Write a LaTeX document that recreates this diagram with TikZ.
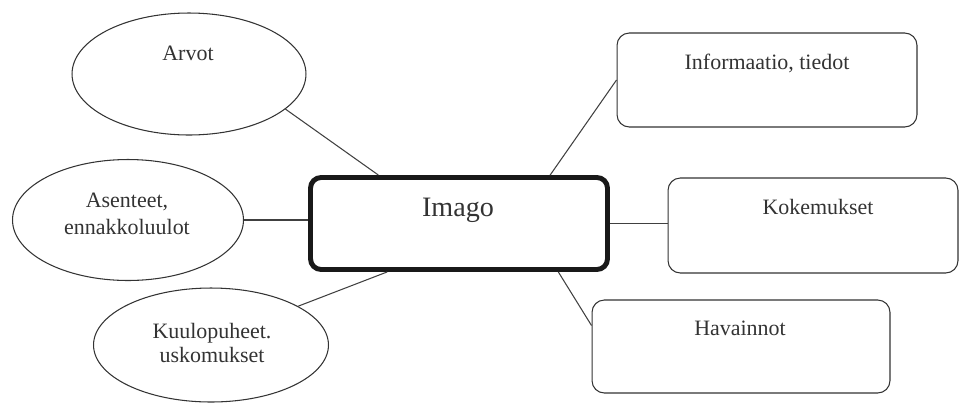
\documentclass[tikz,border=0pt]{standalone}
\usepackage{fontspec}
\setmainfont{Liberation Serif}
\usetikzlibrary{shapes.geometric}
\begin{document}
\begin{tikzpicture}[x=0.02cm,y=-0.02cm,line width=0.6pt,
  oval/.style={draw=black!80,ellipse,inner sep=0pt},
  box/.style={draw=black!80,rounded corners=7pt,inner sep=0pt},
  txt/.style={text=black!80,font=\fontsize{12.5}{15}\selectfont,align=center},
  link/.style={draw=black!75}]
\useasboundingbox (0,0) rectangle (959,403);
% ovals on the left
\node[oval,minimum width=4.68cm,minimum height=2.44cm] (arvot) at (189,74) {};
\node[oval,minimum width=4.62cm,minimum height=2.42cm] (asenteet) at (128,220) {};
\node[oval,minimum width=4.7cm,minimum height=2.28cm] (kuulo) at (211,345) {};
\node[txt] (arvot-t) at (188,53) {Arvot};
\node[txt,font=\fontsize{12.5}{15.4}\selectfont] (asenteet-t) at (127,214) {Asenteet,\\ennakkoluulot};
\node[txt,font=\fontsize{12.5}{14.2}\selectfont] (kuulo-t) at (212,343) {Kuulopuheet.\\uskomukset};
% middle
\node[box,draw=black!90,line width=2.8pt,rounded corners=6pt,minimum width=5.94cm,minimum height=1.84cm] (imago) at (459,223.5) {};
\node[txt,font=\fontsize{16}{19}\selectfont] (imago-t) at (458,210) {Imago};
% boxes on the right
\node[box,minimum width=6cm,minimum height=1.88cm] (info) at (767,80) {};
\node[box,minimum width=5.8cm,minimum height=1.9cm] (koke) at (813,225.5) {};
\node[box,minimum width=5.96cm,minimum height=1.86cm] (hava) at (741,346.5) {};
\node[txt] (info-t) at (767,63) {Informaatio, tiedot};
\node[txt] (koke-t) at (818,207) {Kokemukset};
\node[txt] (hava-t) at (740,328) {Havainnot};
% links
\draw[link] (arvot.-20) -- (imago.149);
\draw[link] (asenteet.east) -- (asenteet.east -| imago.west);
\draw[link] (kuulo.24) -- (imago.214);
\draw[link] (imago.28) -- (info.west);
\draw[link] (imago.east) -- (imago.east -| koke.west);
\draw[link] (imago.-26) -- (hava.172);
\end{tikzpicture}
\end{document}
